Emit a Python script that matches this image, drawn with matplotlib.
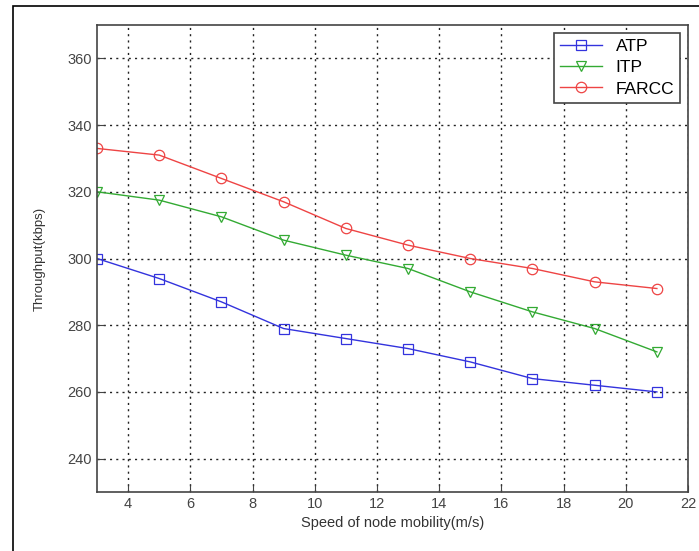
import matplotlib
matplotlib.use('Agg')
import matplotlib.pyplot as plt
from matplotlib.patches import Rectangle

# data
speed = [3, 5, 7, 9, 11, 13, 15, 17, 19, 21]
atp = [300, 294, 287, 279, 276, 273, 269, 264, 262, 260]
itp = [320, 317.5, 312.5, 305.5, 301, 297, 290, 284, 279, 272]
farcc = [333, 331, 324, 317, 309, 304, 300, 297, 293, 291]

plt.rcParams['font.family'] = ['Liberation Sans', 'DejaVu Sans']
plt.rcParams['font.size'] = 10

fig = plt.figure(figsize=(6.99, 5.51), dpi=100)
ax = fig.add_axes([97/699, (551-492)/551, (688-97)/699, (492-25)/551])

# outer frame of the picture
fig.patches.append(Rectangle((13/699, -0.01), 1.0, (551-6)/551 + 0.01, transform=fig.transFigure,
                             fill=False, edgecolor='black', linewidth=1.2))

ax.plot(speed, atp, color='#3333dd', marker='s', markersize=7.5, markerfacecolor='none',
        markeredgewidth=0.9, linewidth=1.0, label='ATP')
ax.plot(speed, itp, color='#33aa33', marker='v', markersize=7.5, markerfacecolor='none',
        markeredgewidth=0.9, linewidth=1.0, label='ITP')
ax.plot(speed, farcc, color='#ee4444', marker='o', markersize=7.5, markerfacecolor='none',
        markeredgewidth=0.9, linewidth=1.0, label='FARCC')

ax.set_xlim(3, 22)
ax.set_ylim(230, 370)
ax.set_xticks(range(4, 23, 2))
ax.set_yticks(range(240, 361, 20))
ax.grid(True, color='#222222', linestyle=(0, (1.5, 3)), linewidth=1.0)
ax.tick_params(direction='in', length=5, colors='#444444', labelsize=10.5)
for s in ax.spines.values():
    s.set_color('#444444')
    s.set_linewidth(1.2)

ax.set_xlabel('Speed of node mobility(m/s)', fontsize=10.5, color='#333333')
ax.set_ylabel('Throughput(kbps)', fontsize=9.5, color='#333333', labelpad=16)

leg = ax.legend(loc='upper right', fancybox=False, edgecolor='#444444', fontsize=12.5,
                borderaxespad=0.45, handlelength=2.4, labelspacing=0.35, borderpad=0.35,
                framealpha=1)
leg.get_frame().set_linewidth(1.2)

fig.savefig('out.png', dpi=100)
